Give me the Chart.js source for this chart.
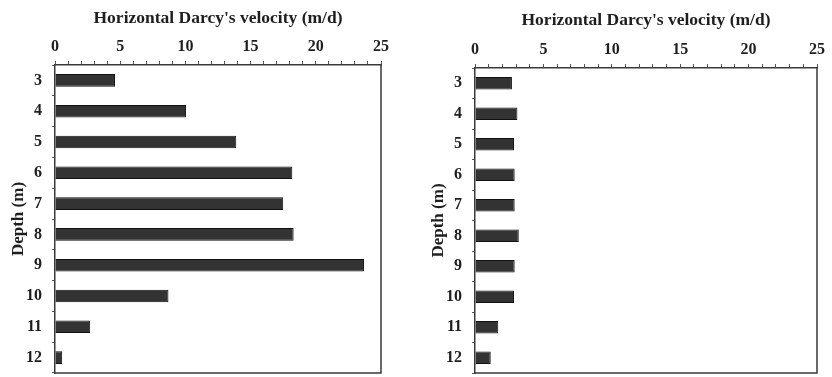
<!DOCTYPE html>
<html>
<head>
<meta charset="utf-8">
<script src="https://cdn.jsdelivr.net/npm/chart.js@4/dist/chart.umd.min.js"></script>
<style>
  body { margin: 0; background: #fff; width: 832px; height: 377px; overflow: hidden; position: relative; }
  canvas { position: absolute; top: 0; display: block; }
  #leftChart { left: 0; }
  #rightChart { left: 420px; }
</style>
</head>
<body>
<canvas id="leftChart" width="400" height="377"></canvas>
<canvas id="rightChart" width="412" height="377"></canvas>
<script>
const depths = ['3', '4', '5', '6', '7', '8', '9', '10', '11', '12'];
const leftVelocity = [4.6, 10.05, 13.9, 18.2, 17.5, 18.3, 23.7, 8.7, 2.7, 0.55];
const rightVelocity = [2.7, 3.1, 2.85, 2.9, 2.9, 3.2, 2.9, 2.85, 1.7, 1.15];
const xTitle = "Horizontal Darcy's velocity (m/d)";
const yTitle = 'Depth (m)';

const FONT = "'Liberation Serif', 'Times New Roman', serif";
const INK = '#1e1e1e';

// right and bottom edges of the frame
const framePlugin = {
    id: 'frame',
    afterDraw(chart) {
        const a = chart.chartArea, ctx = chart.ctx;
        ctx.save();
        ctx.strokeStyle = '#3a3a3a';
        ctx.lineWidth = 1.5;
        ctx.beginPath();
        ctx.moveTo(a.left, a.bottom);
        ctx.lineTo(a.right, a.bottom);
        ctx.lineTo(a.right, a.top);
        ctx.stroke();
        ctx.restore();
    }
};

function makeChart(id, values, opt) {
    const ctx = document.getElementById(id).getContext('2d');
    return new Chart(ctx, {
        type: 'bar',
        data: {
            labels: depths,
            datasets: [{
                data: values,
                backgroundColor: '#333333',
                borderColor: '#111111',
                borderWidth: 1,
                barPercentage: 0.41,
                categoryPercentage: 1
            }]
        },
        options: {
            indexAxis: 'y',
            responsive: false,
            animation: false,
            layout: { padding: { left: 0, top: 0, right: opt.padRight, bottom: 4 } },
            plugins: { legend: { display: false }, tooltip: { enabled: false } },
            scales: {
                x: {
                    position: 'top',
                    min: 0, max: 25,
                    afterFit(s) { s.height = opt.top; s.paddingLeft = 0; s.paddingRight = 0; },
                    ticks: {
                        stepSize: 1, autoSkip: false, maxRotation: 0,
                        padding: 5,
                        color: INK,
                        font: { family: FONT, size: 16, weight: 'bold' },
                        callback: v => (v % 5 === 0 ? v : '')
                    },
                    grid: { drawOnChartArea: false, tickLength: 4, tickColor: '#555', lineWidth: 1 },
                    border: { color: '#3a3a3a', width: 1.5 },
                    title: {
                        display: true, text: xTitle, color: INK,
                        font: { family: FONT, size: 17.5, weight: 'bold' },
                        padding: { top: opt.titleTop, bottom: 0 }
                    }
                },
                y: {
                    afterFit(s) { s.width = 55; s.paddingTop = 0; s.paddingBottom = 0; },
                    ticks: {
                        padding: 10, color: INK,
                        font: { family: FONT, size: 16, weight: 'bold' }
                    },
                    grid: { drawOnChartArea: false, offset: true, tickLength: 3, tickColor: '#555' },
                    border: { color: '#3a3a3a', width: 1.5 },
                    title: {
                        display: true, text: yTitle, color: INK,
                        font: { family: FONT, size: 17, weight: 'bold' },
                        padding: { top: 8, bottom: 0 }
                    }
                }
            }
        },
        plugins: [framePlugin]
    });
}

makeChart('leftChart', leftVelocity, { top: 65, padRight: 19, titleTop: 8 });
makeChart('rightChart', rightVelocity, { top: 68, padRight: 15, titleTop: 10 });
</script>
</body>
</html>
